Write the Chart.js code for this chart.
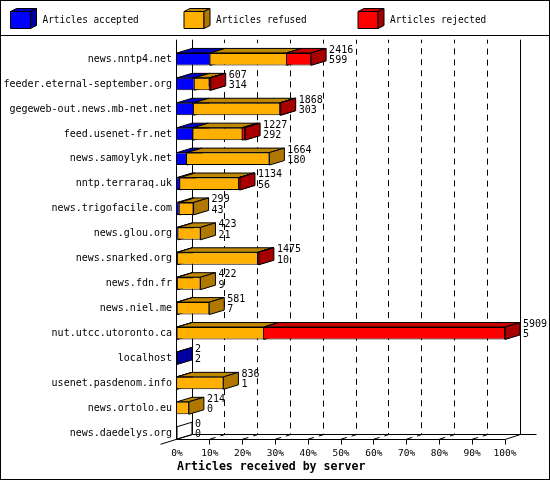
<!DOCTYPE html>
<html>
<head>
<meta charset="utf-8">
<title>Articles received by server</title>
<script src="https://cdn.jsdelivr.net/npm/chart.js@4.4.1/dist/chart.umd.min.js"></script>
<style>
  html, body { margin: 0; padding: 0; background: #fff; }
  #wrap { width: 550px; height: 480px; }
</style>
</head>
<body>
<div id="wrap"><canvas id="chart" width="550" height="480"></canvas></div>
<script>
// data
var servers = ['news.nntp4.net', 'feeder.eternal-september.org', 'gegeweb-out.news.mb-net.net',
  'feed.usenet-fr.net', 'news.samoylyk.net', 'nntp.terraraq.uk', 'news.trigofacile.com',
  'news.glou.org', 'news.snarked.org', 'news.fdn.fr', 'news.niel.me', 'nut.utcc.utoronto.ca',
  'localhost', 'usenet.pasdenom.info', 'news.ortolo.eu', 'news.daedelys.org'];
var accepted = [599, 314, 303, 292, 180, 56, 43, 21, 10, 9, 7, 5, 2, 1, 0, 0];
var refused  = [1378, 274, 1555, 886, 1484, 1062, 256, 402, 1444, 413, 574, 1557, 0, 835, 214, 0];
var rejected = [439, 19, 10, 49, 0, 16, 0, 0, 21, 0, 0, 4347, 0, 0, 0, 0];
var seriesNames = ['Articles accepted', 'Articles refused', 'Articles rejected'];
var tickPercents = [0, 10, 20, 30, 40, 50, 60, 70, 80, 90, 100];

var FONT = 'DejaVu Sans Mono';
var DX = 15, DY = 4.5;   // depth of the 3d bars
var shades = {
  front: ['#0000ff', '#ffb000', '#ff0000'],
  top:   ['#0000c8', '#c08800', '#c80000'],
  side:  ['#0000a0', '#b07800', '#a80000']
};

var totals = servers.map(function (s, i) { return accepted[i] + refused[i] + rejected[i]; });
var maxTotal = Math.max.apply(null, totals);

function face(ctx, pts, fill) {
  ctx.beginPath();
  ctx.moveTo(pts[0][0], pts[0][1]);
  for (var k = 1; k < pts.length; k++) ctx.lineTo(pts[k][0], pts[k][1]);
  ctx.closePath();
  if (fill) { ctx.fillStyle = fill; ctx.fill(); }
  ctx.stroke();
}

function line(ctx, pts) {
  ctx.beginPath();
  ctx.moveTo(pts[0][0], pts[0][1]);
  for (var k = 1; k < pts.length; k++) ctx.lineTo(pts[k][0], pts[k][1]);
  ctx.stroke();
}

function frameInfo(chart) {
  var xs = chart.scales.x, ys = chart.scales.y;
  var last = chart.getDatasetMeta(0).data[servers.length - 1];
  var floorY = ys.getPixelForValue(servers.length - 1) + last.height / 2;
  return {
    xs: xs, ys: ys,
    x0: xs.getPixelForValue(0),
    x1: xs.getPixelForValue(maxTotal),
    floorY: floorY,
    backY: floorY - DY,
    wallTop: chart.chartArea.top - 7
  };
}

var bars3d = {
  id: 'bars3d',
  beforeDatasetsDraw: function (chart) {
    var ctx = chart.ctx, f = frameInfo(chart);
    ctx.save();
    ctx.lineWidth = 1;
    ctx.strokeStyle = '#000';

    // dashed grid lines on the floor and the back wall
    ctx.setLineDash([6, 5]);
    for (var k = 1; k < tickPercents.length - 1; k++) {
      var xf = f.xs.getPixelForValue(maxTotal * tickPercents[k] / 100);
      var xb = Math.floor(xf + DX) + 0.5;
      line(ctx, [[xf, f.floorY], [xb, f.backY], [xb, f.wallTop]]);
    }
    ctx.setLineDash([]);

    // back wall
    var bl = Math.floor(f.x0 + DX) + 0.5, br = Math.floor(f.x1 + DX) + 0.5;
    var by = Math.floor(f.backY) + 0.5;
    line(ctx, [[bl, f.wallTop], [bl, by]]);
    line(ctx, [[br, f.wallTop], [br, by]]);
    line(ctx, [[bl, by], [br + 16, by]]);

    // top and side faces, segment by segment
    for (var i = 0; i < servers.length; i++) {
      for (var d = 0; d < 3; d++) {
        var p = chart.getDatasetMeta(d).data[i].getProps(['x', 'base', 'y', 'height'], true);
        var left = Math.min(p.x, p.base), right = Math.max(p.x, p.base);
        if (right - left < 0.01) continue;
        var top = p.y - p.height / 2, bottom = p.y + p.height / 2;
        face(ctx, [[left, top], [right, top], [right + DX, top - DY], [left + DX, top - DY]], shades.top[d]);
        face(ctx, [[right, top], [right, bottom], [right + DX, bottom - DY], [right + DX, top - DY]], shades.side[d]);
      }
      if (totals[i] === 0) {
        var q = chart.getDatasetMeta(0).data[i].getProps(['y', 'height'], true);
        var t = q.y - q.height / 2, b = q.y + q.height / 2;
        face(ctx, [[f.x0, t], [f.x0, b], [f.x0 + DX, b - DY], [f.x0 + DX, t - DY]], null);
      }
    }
    ctx.restore();
  },
  afterDatasetsDraw: function (chart) {
    var ctx = chart.ctx, f = frameInfo(chart);
    ctx.save();
    ctx.lineWidth = 1;
    ctx.strokeStyle = '#000';
    var fy = Math.floor(f.floorY) + 0.5, ax = Math.floor(f.x0) - 0.5;

    // front axis, floor edge and tick marks
    line(ctx, [[ax, f.wallTop], [ax, fy]]);
    line(ctx, [[ax, fy], [f.x1, fy], [f.x1 + DX, f.backY]]);
    line(ctx, [[ax - 16, fy + 4.8], [ax + DX, f.backY]]);
    for (var k = 1; k < tickPercents.length; k++) {
      var xt = Math.floor(f.xs.getPixelForValue(maxTotal * tickPercents[k] / 100)) + 0.5;
      line(ctx, [[xt, fy], [xt, fy + 5]]);
    }

    // totals and accepted counts at the end of each bar
    ctx.fillStyle = '#000';
    ctx.font = '10px "' + FONT + '"';
    ctx.textAlign = 'left';
    ctx.textBaseline = 'middle';
    for (var i = 0; i < servers.length; i++) {
      var xe = f.xs.getPixelForValue(totals[i]) + DX + 3;
      var yc = f.ys.getPixelForValue(i);
      ctx.fillText(String(totals[i]), xe, yc - 8.9);
      ctx.fillText(String(accepted[i]), xe, yc + 1.5);
    }
    ctx.restore();
  },
  afterDraw: function (chart) {
    var ctx = chart.ctx;
    ctx.save();
    ctx.lineWidth = 1;
    ctx.strokeStyle = '#000';
    ctx.strokeRect(0.5, 0.5, chart.width - 1, chart.height - 1);
    line(ctx, [[0, 35.5], [chart.width, 35.5]]);

    // legend with little cubes
    var lx = [10, 183.5, 357.5];
    for (var d = 0; d < 3; d++) {
      var x = lx[d] + 0.5, y = 11.5, w = 20, h = 17, ox = 6, oy = 3;
      face(ctx, [[x, y], [x + w, y], [x + w, y + h], [x, y + h]], shades.front[d]);
      face(ctx, [[x, y], [x + ox, y - oy], [x + w + ox, y - oy], [x + w, y]], shades.top[d]);
      face(ctx, [[x + w, y], [x + w + ox, y - oy], [x + w + ox, y + h - oy], [x + w, y + h]], shades.side[d]);
      // legend font is tall and narrow, squeeze a mono font sideways
      ctx.save();
      ctx.translate(lx[d] + 32.5, 20);
      ctx.scale(0.855, 1);
      ctx.font = '11px "' + FONT + '"';
      ctx.textBaseline = 'middle';
      ctx.textAlign = 'left';
      ctx.fillStyle = '#000';
      ctx.fillText(chart.data.datasets[d].label, 0, 0);
      ctx.restore();
    }
    ctx.restore();
  }
};

Chart.defaults.color = '#000';
Chart.defaults.font.family = FONT;

var series = [accepted, refused, rejected];
var datasets = series.map(function (values, d) {
  return {
    label: seriesNames[d],
    data: values,
    backgroundColor: shades.front[d],
    borderColor: '#000',
    borderWidth: 1,
    borderSkipped: 'start',
    categoryPercentage: 1,
    barPercentage: 0.5
  };
});

new Chart(document.getElementById('chart'), {
  type: 'bar',
  data: { labels: servers, datasets: datasets },
  options: {
    indexAxis: 'y',
    responsive: false,
    animation: false,
    devicePixelRatio: 1,
    layout: { padding: { top: 46.7, left: 0, right: 45, bottom: 0 } },
    plugins: {
      legend: { display: false },
      tooltip: { enabled: false }
    },
    scales: {
      x: {
        type: 'linear',
        stacked: true,
        min: 0,
        max: maxTotal,
        grid: { display: false, drawTicks: false },
        border: { display: false },
        afterBuildTicks: function (scale) {
          scale.ticks = tickPercents.map(function (p) { return { value: maxTotal * p / 100 }; });
        },
        afterFit: function (scale) { scale.height = 34.6; },
        ticks: {
          autoSkip: false,
          maxRotation: 0,
          padding: 2,
          font: { family: FONT, size: 9.5 },
          callback: function (value) { return Math.round(value / maxTotal * 100) + '%'; }
        },
        title: {
          display: true,
          text: 'Articles received by server',
          align: 'start',
          font: { family: FONT, size: 11.6, weight: 'bold' },
          padding: { top: 0, bottom: 6 }
        }
      },
      y: {
        stacked: true,
        grid: { display: false, drawTicks: false },
        border: { display: false },
        afterFit: function (scale) { scale.width = 177; },
        ticks: {
          autoSkip: false,
          padding: 5,
          font: { family: FONT, size: 10 }
        }
      }
    }
  },
  plugins: [bars3d]
});
</script>
</body>
</html>
